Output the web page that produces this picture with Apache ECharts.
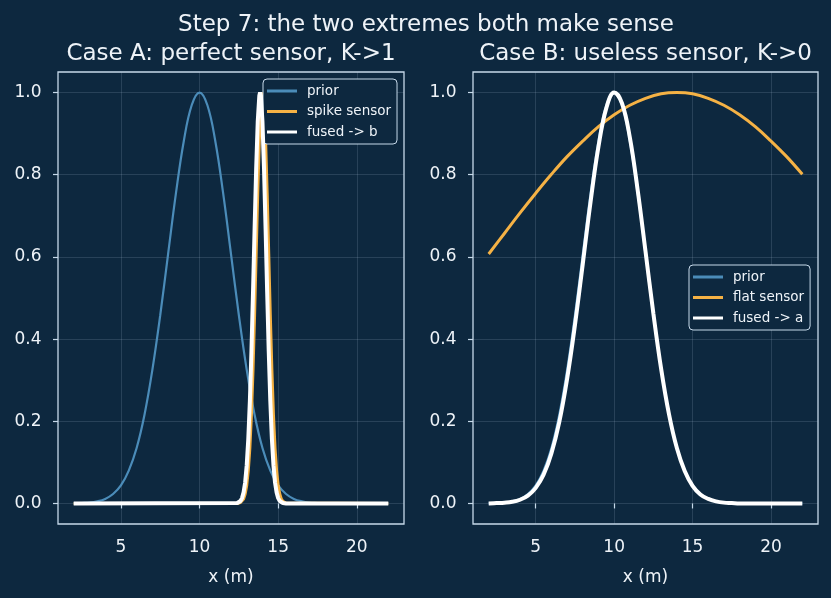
<!DOCTYPE html>
<html>
<head>
<meta charset="utf-8">
<script src="https://cdn.jsdelivr.net/npm/echarts@6/dist/echarts.min.js"></script>
<style>
  html, body { margin: 0; background: #0d283f; }
  #chart { width: 831px; height: 598px; }
</style>
</head>
<body>
<div id="chart"></div>
<script>
// x grid shared by the wide curves (prior, fused in case B)
var xHalf = [2, 2.5, 3, 3.5, 4, 4.5, 5, 5.5, 6, 6.5, 7, 7.5, 8, 8.5, 9, 9.5, 10, 10.5, 11, 11.5,
  12, 12.5, 13, 13.5, 14, 14.5, 15, 15.5, 16, 16.5, 17, 17.5, 18, 18.5, 19, 19.5, 20, 20.5, 21, 21.5, 22];
var priorY = [0, 0.001, 0.002, 0.005, 0.011, 0.023, 0.044, 0.080, 0.135, 0.216, 0.325, 0.458, 0.607, 0.755, 0.882, 0.969, 1.000,
  0.969, 0.882, 0.755, 0.607, 0.458, 0.325, 0.216, 0.135, 0.080, 0.044, 0.023, 0.011, 0.005, 0.002, 0.001,
  0, 0, 0, 0, 0, 0, 0, 0, 0];
var fusedBY = [0, 0.001, 0.002, 0.004, 0.009, 0.019, 0.038, 0.070, 0.122, 0.198, 0.303, 0.434, 0.583, 0.735, 0.868, 0.962, 1.000,
  0.974, 0.891, 0.763, 0.614, 0.463, 0.327, 0.217, 0.135, 0.079, 0.043, 0.022, 0.011, 0.005, 0.002, 0.001,
  0, 0, 0, 0, 0, 0, 0, 0, 0];

// flat sensor (case B)
var xWhole = [2, 3, 4, 5, 6, 7, 8, 9, 10, 11, 12, 13, 14, 15, 16, 17, 18, 19, 20, 21, 22];
var flatY = [0.607, 0.657, 0.707, 0.755, 0.801, 0.844, 0.882, 0.917, 0.946, 0.969, 0.986, 0.997, 1.000,
  0.997, 0.986, 0.969, 0.946, 0.917, 0.882, 0.844, 0.801];

// spike sensor (case A)
var spikeX = [2, 12.4, 12.5, 12.6, 12.7, 12.8, 12.9, 13, 13.1, 13.2, 13.3, 13.4, 13.5, 13.6, 13.7, 13.8, 13.9,
  14, 14.1, 14.2, 14.3, 14.4, 14.5, 14.6, 14.7, 14.8, 14.9, 15, 15.1, 15.2, 15.3, 15.4, 15.5, 15.6, 22];
var spikeY = [0, 0, 0.001, 0.002, 0.005, 0.011, 0.023, 0.044, 0.080, 0.135, 0.216, 0.325, 0.458, 0.607, 0.755, 0.882, 0.969,
  1.000, 0.969, 0.882, 0.755, 0.607, 0.458, 0.325, 0.216, 0.135, 0.080, 0.044, 0.023, 0.011, 0.005, 0.002, 0.001, 0, 0];

// fused -> b (case A)
var fusedAX = [2, 12.4, 12.5, 12.6, 12.7, 12.8, 12.9, 13, 13.1, 13.2, 13.3, 13.4, 13.5, 13.6, 13.7, 13.8, 13.85,
  13.9, 14, 14.1, 14.2, 14.3, 14.4, 14.5, 14.6, 14.7, 14.8, 14.9, 15, 15.1, 15.2, 15.3, 15.4, 15.5, 15.6, 22];
var fusedAY = [0, 0.001, 0.003, 0.006, 0.013, 0.027, 0.051, 0.093, 0.157, 0.249, 0.370, 0.514, 0.668, 0.814, 0.929, 0.992, 1.000,
  0.992, 0.929, 0.814, 0.668, 0.514, 0.370, 0.249, 0.157, 0.093, 0.051, 0.027, 0.013, 0.006, 0.003, 0.001, 0, 0, 0, 0];

var xTicks = [5, 10, 15, 20];
var yTicks = [0, 0.2, 0.4, 0.6, 0.8, 1.0];

var BG = '#0d283f';
var TEXT = '#eef3f8';
var BORDER = '#c6d9ea';
var GRIDLINE = 'rgba(190,210,230,0.2)';
var BLUE = '#4b8cb9';
var ORANGE = '#f5b245';
var WHITE = '#ffffff';
var FONT = '"DejaVu Sans", sans-serif';

function pairs(xs, ys) {
  return xs.map(function (x, i) { return [x, ys[i]]; });
}

function xAxisFor(idx) {
  return {
    type: 'value', gridIndex: idx, min: 1, max: 23,
    name: 'x (m)', nameLocation: 'middle', nameGap: 45,
    nameTextStyle: { color: TEXT, fontSize: 17, fontFamily: FONT },
    axisLine: { show: false },
    axisTick: { show: true, length: 5, customValues: xTicks, lineStyle: { color: BORDER, width: 1.2 } },
    axisLabel: { customValues: xTicks, color: TEXT, fontSize: 17, fontFamily: FONT, margin: 15 },
    splitLine: { show: true, lineStyle: { color: GRIDLINE, width: 0.8 } }
  };
}

function yAxisFor(idx) {
  return {
    type: 'value', gridIndex: idx, min: -0.05, max: 1.05,
    axisLine: { show: false },
    axisTick: { show: true, length: 5, customValues: yTicks, lineStyle: { color: BORDER, width: 1.2 } },
    axisLabel: {
      customValues: yTicks, color: TEXT, fontSize: 17, fontFamily: FONT, margin: 16.5,
      formatter: function (v) { return v.toFixed(1); }
    },
    splitLine: { show: true, lineStyle: { color: GRIDLINE, width: 0.8 } }
  };
}

function lineSeries(name, idx, data, color, width, z, smooth) {
  return {
    type: 'line', name: name, xAxisIndex: idx, yAxisIndex: idx,
    data: data, symbol: 'none', showSymbol: false, smooth: smooth,
    lineStyle: { color: color, width: width },
    itemStyle: { color: color },
    z: z
  };
}

function legendFor(names, left, top) {
  return {
    data: names, left: left, top: top, orient: 'vertical',
    icon: 'rect', itemWidth: 30, itemHeight: 3, itemGap: 6.5,
    padding: [5, 6, 5, 4],
    backgroundColor: BG, borderColor: BORDER, borderWidth: 1, borderRadius: 4,
    textStyle: { color: TEXT, fontSize: 13.5, fontFamily: FONT, lineHeight: 14, padding: [0, 0, 0, 5] }
  };
}

var chart = echarts.init(document.getElementById('chart'));

var option = {
  backgroundColor: BG,
  animation: false,
  graphic: [
    { type: 'text', x: 426, y: 25, style: { text: 'Step 7: the two extremes both make sense', fill: TEXT, font: '23px ' + FONT, align: 'center', verticalAlign: 'middle', textAlign: 'center', textVerticalAlign: 'middle' } },
    { type: 'text', x: 231, y: 54, style: { text: 'Case A: perfect sensor, K->1', fill: TEXT, font: '23px ' + FONT, align: 'center', verticalAlign: 'middle', textAlign: 'center', textVerticalAlign: 'middle' } },
    { type: 'text', x: 645.5, y: 54, style: { text: 'Case B: useless sensor, K->0', fill: TEXT, font: '23px ' + FONT, align: 'center', verticalAlign: 'middle', textAlign: 'center', textVerticalAlign: 'middle' } }
  ],
  grid: [
    { left: 58, top: 72, width: 346, height: 452, show: true, borderColor: BORDER, borderWidth: 1.3, backgroundColor: 'transparent' },
    { left: 473, top: 72, width: 345, height: 452, show: true, borderColor: BORDER, borderWidth: 1.3, backgroundColor: 'transparent' }
  ],
  xAxis: [xAxisFor(0), xAxisFor(1)],
  yAxis: [yAxisFor(0), yAxisFor(1)],
  legend: [
    legendFor(['prior', 'spike sensor', 'fused -> b'], 263, 79),
    legendFor(['prior', 'flat sensor', 'fused -> a'], 689, 265)
  ],
  series: [
    lineSeries('prior', 0, pairs(xHalf, priorY), BLUE, 2.2, 2, 0.4),
    lineSeries('spike sensor', 0, pairs(spikeX, spikeY), ORANGE, 3, 3, false),
    lineSeries('fused -> b', 0, pairs(fusedAX, fusedAY), WHITE, 4, 4, false),
    lineSeries('prior', 1, pairs(xHalf, priorY), BLUE, 2.2, 2, 0.4),
    lineSeries('flat sensor', 1, pairs(xWhole, flatY), ORANGE, 3, 3, 0.4),
    lineSeries('fused -> a', 1, pairs(xHalf, fusedBY), WHITE, 4, 4, 0.4)
  ]
};

chart.setOption(option);
</script>
</body>
</html>
